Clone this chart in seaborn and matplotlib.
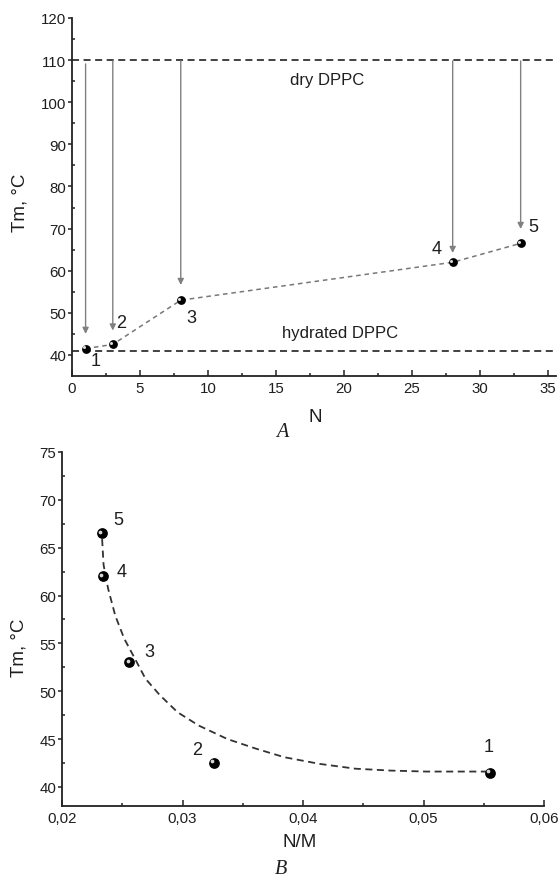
import numpy as np
import pandas as pd
import matplotlib
matplotlib.use("Agg")
import matplotlib.pyplot as plt
import matplotlib.transforms as mtransforms
import seaborn as sns

# ---- data ----
labels = ["1", "2", "3", "4", "5"]
N = [1, 3, 8, 28, 33]
Tm = [41.5, 42.5, 53.0, 62.0, 66.5]
NM = [0.0555, 0.0326, 0.0256, 0.0234, 0.0233]
arrow_tips = [45.0, 45.8, 56.6, 64.2, 69.9]
arrow_starts = [109.1, 109.8, 109.8, 109.8, 109.8]
T_dry = 110
T_hydrated = 41
fit_x = [0.02333, 0.02345, 0.02383, 0.02442, 0.02516, 0.02605, 0.02693, 0.02811,
         0.02959, 0.03136, 0.03372, 0.03608, 0.03844, 0.04139, 0.04434, 0.04729,
         0.05024, 0.05525]
fit_y = [65.9, 63.2, 60.7, 57.9, 55.5, 53.4, 51.3, 49.6, 47.8, 46.4, 45.0, 44.0,
         43.1, 42.4, 41.9, 41.7, 41.6, 41.6]
xticks_A = [0, 5, 10, 15, 20, 25, 30, 35]
yticks_A = [40, 50, 60, 70, 80, 90, 100, 110, 120]
xticks_B = [0.02, 0.03, 0.04, 0.05, 0.06]
xticklabels_B = ["0,02", "0,03", "0,04", "0,05", "0,06"]
yticks_B = [40, 45, 50, 55, 60, 65, 70, 75]

df = pd.DataFrame({"label": labels, "N": N, "Tm": Tm, "NM": NM})
fit = pd.DataFrame({"x": fit_x, "y": fit_y})

sns.set_theme(style="ticks")
plt.rcParams["font.family"] = ["Liberation Sans", "DejaVu Sans"]

W, H = 558, 878
fig = plt.figure(figsize=(W / 100, H / 100), dpi=100)
# axes boxes in pixels: left, right, top, bottom
axA = fig.add_axes([72 / W, 1 - 377 / H, (556 - 72) / W, (377 - 19) / H])
axB = fig.add_axes([62 / W, 1 - 807 / H, (544 - 62) / W, (807 - 453) / H])

TXT = "#1e1e1e"

def style_axis(ax):
    for s in ["top", "right"]:
        ax.spines[s].set_visible(False)
    for s in ["left", "bottom"]:
        ax.spines[s].set_linewidth(1.3)
        ax.spines[s].set_color("#222222")
    ax.grid(False)
    ax.tick_params(which="both", colors="#222222", labelcolor=TXT, labelsize=10.8, width=1.1)
    ax.tick_params(axis="x", which="both", direction="in", pad=3.5)
    ax.tick_params(axis="x", which="major", length=4)
    ax.tick_params(axis="x", which="minor", length=2.5)
    ax.tick_params(axis="y", which="major", direction="out", length=3, pad=1)
    ax.tick_params(axis="y", which="minor", direction="in", length=2.5)

def sphere_markers(ax, x, y, size):
    ax.scatter(x, y, s=size, color="black", zorder=5, linewidths=0)
    off = mtransforms.offset_copy(ax.transData, fig=fig, x=-1.2, y=1.2, units="points")
    ax.scatter(x, y, s=size * 0.12, color="#d8d8d8", zorder=6, linewidths=0,
               transform=off)

DASH = (0, (3.9, 2.5))

# ---------- panel A ----------
style_axis(axA)
axA.axhline(T_dry, color="#333333", lw=1.3, ls=DASH, zorder=1)
axA.axhline(T_hydrated, color="#333333", lw=1.3, ls=DASH, zorder=1)
sns.lineplot(data=df, x="N", y="Tm", ax=axA, color="#777777", lw=1.1,
             linestyle=(0, (3, 2.5)), sort=False, zorder=2)
for n, y0, tip in zip(N, arrow_starts, arrow_tips):
    axA.annotate("", xy=(n, tip), xytext=(n, y0),
                 arrowprops=dict(arrowstyle="-|>", color="#808080", lw=1.0,
                                 mutation_scale=9, shrinkA=0, shrinkB=0))
sphere_markers(axA, df["N"], df["Tm"], 40)
lblA_pos = [(1.75, 38.6), (3.6, 47.8), (8.75, 49.0), (26.8, 65.3), (33.9, 70.5)]
for t, (x, y) in zip(labels, lblA_pos):
    axA.text(x, y, t, fontsize=13, ha="center", va="center", color=TXT)
axA.text(18.8, 105.3, "dry DPPC", fontsize=12, ha="center", va="center", color=TXT)
axA.text(19.7, 45.4, "hydrated DPPC", fontsize=12, ha="center", va="center", color=TXT)
axA.set_xlim(0, 35.6)
axA.set_ylim(35, 120)
axA.set_xticks(xticks_A)
axA.set_yticks(yticks_A)
axA.set_xticks(np.arange(2.5, 36, 5), minor=True)
axA.set_yticks(np.arange(45, 120, 10), minor=True)
axA.set_xlabel("N", fontsize=13.5, color=TXT)
axA.xaxis.set_label_coords((315 - 72) / 484, (377 - 418) / 358)
axA.xaxis.label.set_va("center")
axA.set_ylabel("Tm, °C", fontsize=13.5, color=TXT)
axA.yaxis.set_label_coords((20 - 72) / 484, (377 - 203) / 358)
axA.yaxis.label.set_va("center")
fig.text(282 / W, 1 - 433 / H, "A", fontsize=14.5, style="italic",
         family="Liberation Serif", ha="center", va="center", color=TXT)

# ---------- panel B ----------
style_axis(axB)
sns.lineplot(data=fit, x="x", y="y", ax=axB, color="#333333", lw=1.3,
             linestyle=DASH, sort=False, zorder=2)
sphere_markers(axB, df["NM"], df["Tm"], 60)
lblB_pos = [(0.0554, 44.2), (0.0312, 43.9), (0.02723, 54.1), (0.02496, 62.5), (0.02466, 67.9)]
for t, (x, y) in zip(labels, lblB_pos):
    axB.text(x, y, t, fontsize=13, ha="center", va="center", color=TXT)
axB.set_xlim(0.02, 0.06)
axB.set_ylim(38, 75)
axB.set_xticks(xticks_B)
axB.set_xticklabels(xticklabels_B)
axB.set_yticks(yticks_B)
axB.set_xticks(np.arange(0.025, 0.06, 0.01), minor=True)
axB.set_yticks(np.arange(42.5, 75, 5), minor=True)
axB.set_xlabel("N/M", fontsize=13.5, color=TXT)
axB.xaxis.set_label_coords((300 - 62) / 482, (807 - 843) / 354)
axB.xaxis.label.set_va("center")
axB.set_ylabel("Tm, °C", fontsize=13.5, color=TXT)
axB.yaxis.set_label_coords((19 - 62) / 482, 0.45)
axB.yaxis.label.set_va("center")
fig.text(281 / W, 1 - 870 / H, "B", fontsize=14.5, style="italic",
         family="Liberation Serif", ha="center", va="center", color=TXT)

fig.savefig("out.png", dpi=100)
